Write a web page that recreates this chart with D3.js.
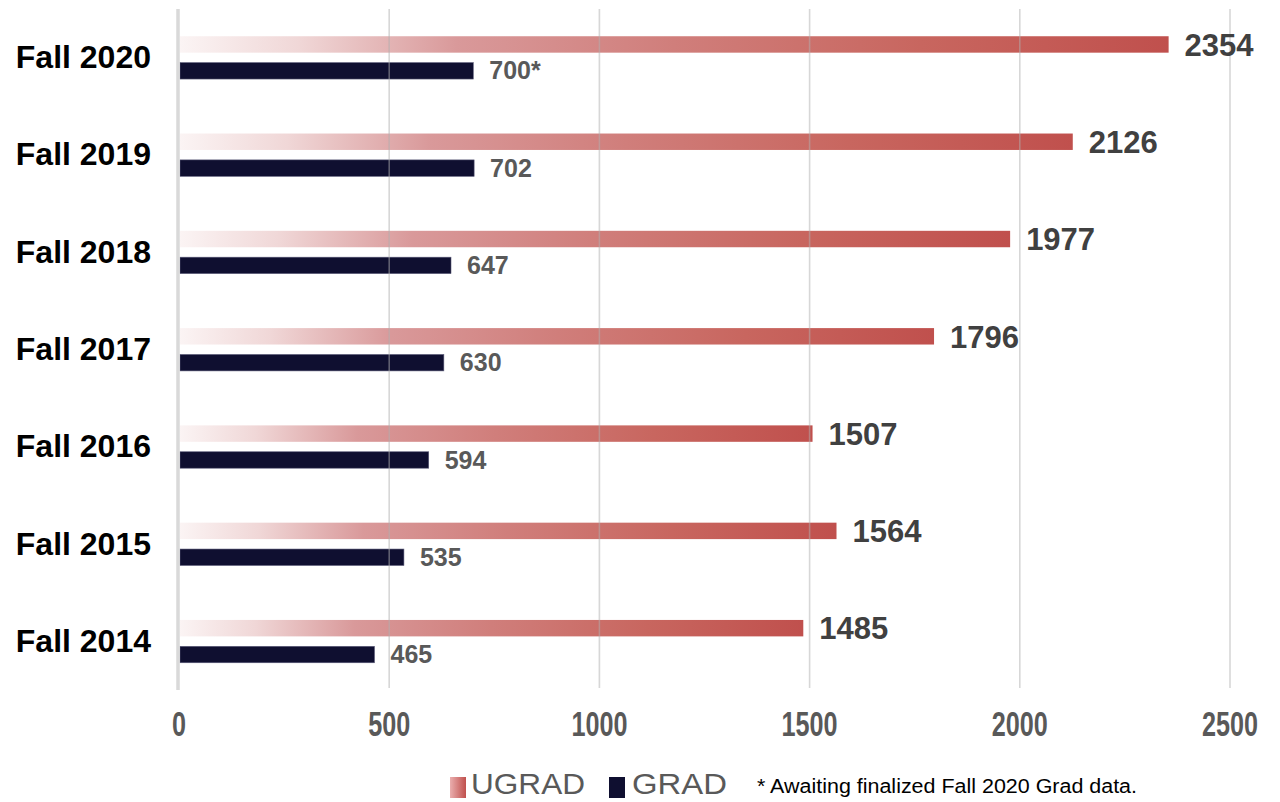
<!DOCTYPE html>
<html><head><meta charset="utf-8">
<script src="https://cdn.jsdelivr.net/npm/d3@7"></script>
<style>body{margin:0;background:#fff}svg{display:block}</style>
</head><body>
<svg id="chart" width="1280" height="802"></svg>
<script>
const categories = ["Fall 2020","Fall 2019","Fall 2018","Fall 2017","Fall 2016","Fall 2015","Fall 2014"];
const ugrad = [2354,2126,1977,1796,1507,1564,1485];
const grad = [700,702,647,630,594,535,465];
const gradLabels = ["700*","702","647","630","594","535","465"];
const xTicks = [0,500,1000,1500,2000,2500];
const seriesNames = ["UGRAD","GRAD"];
const footnote = "* Awaiting finalized Fall 2020 Grad data.";

const FONT = "Liberation Sans, Arial, sans-serif";
const svg = d3.select("#chart");
const x = d3.scaleLinear().domain([0,2500]).range([179,1230]);
const y = d3.scaleBand().domain(categories).range([9,690]).paddingInner(0.56).paddingOuter(0.28);
const ySub = d3.scaleBand().domain(seriesNames).range([0,y.bandwidth()]).paddingInner(0.377);

const defs = svg.append("defs");
const lg = defs.append("linearGradient").attr("id","ug").attr("x1","0").attr("x2","1").attr("y1","0").attr("y2","0");
[[0,"#fbf4f4"],[0.12,"#f0d7d7"],[0.28,"#d9999a"],[0.5,"#d07e7b"],[0.75,"#c8665f"],[1,"#c0504d"]].forEach(([o,c])=>lg.append("stop").attr("offset",o).attr("stop-color",c));
const lg2 = defs.append("linearGradient").attr("id","ugleg").attr("x1","0").attr("x2","1");
[[0,"#eaaeae"],[1,"#c0504d"]].forEach(([o,c])=>lg2.append("stop").attr("offset",o).attr("stop-color",c));

// bars
const g = svg.append("g");
categories.forEach((c,i)=>{
  g.append("rect").attr("x",x(0)+1).attr("y",y(c)+ySub("UGRAD"))
    .attr("width",x(ugrad[i])-x(0)-1).attr("height",ySub.bandwidth()).attr("fill","url(#ug)");
  g.append("rect").attr("x",x(0)+1).attr("y",y(c)+ySub("GRAD"))
    .attr("width",x(grad[i])-x(0)-1).attr("height",ySub.bandwidth()).attr("fill","#0f0f30")
    .attr("stroke","#5a5a78").attr("stroke-width",0.6);
});

// gridlines on top
svg.append("g").selectAll("line").data(xTicks.slice(1)).join("line")
  .attr("x1",d=>x(d)).attr("x2",d=>x(d)).attr("y1",9).attr("y2",688)
  .attr("stroke","#b0b0b0").attr("stroke-opacity",0.5).attr("stroke-width",1.6);
svg.append("line").attr("x1",x(0)-1).attr("x2",x(0)-1).attr("y1",9).attr("y2",690)
  .attr("stroke","#d9d9d9").attr("stroke-width",3.5);

// value labels
categories.forEach((c,i)=>{
  svg.append("text").attr("x",x(ugrad[i])+16).attr("y",y(c)+ySub("UGRAD")+ySub.bandwidth()/2+3)
    .attr("dominant-baseline","middle").attr("font-family",FONT)
    .attr("font-weight","bold").attr("font-size",31).attr("fill","#404040").text(ugrad[i]);
  svg.append("text").attr("x",x(grad[i])+16).attr("y",y(c)+ySub("GRAD")+ySub.bandwidth()/2+2)
    .attr("dominant-baseline","middle").attr("font-family",FONT)
    .attr("font-weight","bold").attr("font-size",25).attr("fill","#595959").text(gradLabels[i]);
});

// category labels
svg.append("g").selectAll("text").data(categories).join("text")
  .attr("x",151).attr("y",d=>y(d)+y.bandwidth()/2+2).attr("text-anchor","end").attr("dominant-baseline","middle")
  .attr("font-family",FONT).attr("font-weight","bold").attr("font-size",32)
  .attr("fill","#000").text(d=>d);

// x tick labels (condensed)
svg.append("g").selectAll("text").data(xTicks).join("text")
  .attr("transform",d=>`translate(${x(d)},727) scale(0.72,1)`)
  .attr("text-anchor","middle").attr("dominant-baseline","middle")
  .attr("font-family",FONT).attr("font-weight","bold").attr("font-size",35)
  .attr("fill","#595959").text(d=>d);

// legend
const leg = svg.append("g");
leg.append("rect").attr("x",450).attr("y",777).attr("width",16).attr("height",21).attr("fill","url(#ugleg)");
leg.append("text").attr("x",471).attr("y",786).attr("dominant-baseline","middle")
  .attr("font-family",FONT).attr("font-size",30).attr("fill","#595959")
  .attr("textLength",114).attr("lengthAdjust","spacingAndGlyphs").text(seriesNames[0]);
leg.append("rect").attr("x",609).attr("y",777).attr("width",16).attr("height",21).attr("fill","#0f0f30");
leg.append("text").attr("x",632).attr("y",786).attr("dominant-baseline","middle")
  .attr("font-family",FONT).attr("font-size",30).attr("fill","#595959")
  .attr("textLength",95).attr("lengthAdjust","spacingAndGlyphs").text(seriesNames[1]);
leg.append("text").attr("x",757).attr("y",788).attr("dominant-baseline","middle")
  .attr("font-family",FONT).attr("font-size",20).attr("fill","#000")
  .attr("textLength",380).attr("lengthAdjust","spacingAndGlyphs").text(footnote);
</script>
</body></html>
